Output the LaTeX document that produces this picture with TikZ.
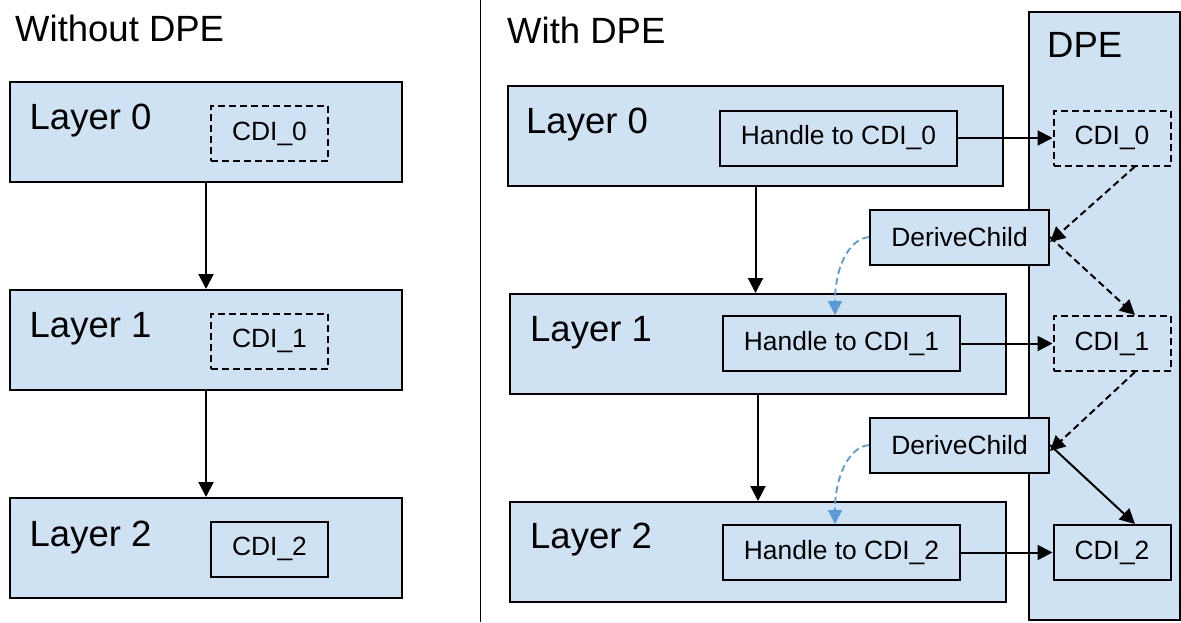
\documentclass[tikz,border=0pt]{standalone}
\usepackage{fontspec}
\setmainfont{Liberation Sans}
\usetikzlibrary{arrows.meta}
\definecolor{boxblue}{HTML}{CFE2F3}
\definecolor{linkblue}{HTML}{5B9BD5}
\begin{document}
\begin{tikzpicture}[x=1pt,y=-1pt,
  lw/.style={line width=2pt},
  layerbox/.style={draw, lw, fill=boxblue, rectangle, inner sep=0pt, minimum height=100pt},
  smallbox/.style={draw, lw, fill=boxblue, rectangle, inner sep=0pt, minimum height=55pt, font=\fontsize{26.4}{30}\selectfont},
  dashbox/.style={smallbox, dash pattern=on 7pt off 4pt},
  bigtext/.style={inner sep=0pt, anchor=base west, font=\fontsize{36.5}{40}\selectfont},
  arr/.style={lw, -{Triangle[length=15pt,width=15pt]}},
  darr/.style={arr, dash pattern=on 7pt off 4pt},
  barr/.style={line width=1.8pt, linkblue, dash pattern=on 7pt off 4pt, -{Triangle[length=14pt,width=14pt]}}]
\useasboundingbox (0,0) rectangle (1181,622);

% divider
\draw[line width=1.6pt] (480.5,0) coordinate (divtop) -- (480.5,622) coordinate (divbot);

% ---- Left panel ----
\node[bigtext] (t1) at (15,41) {Without DPE};
\node[layerbox, minimum width=392pt] (L0) at (206,132) {};
\node[layerbox, minimum width=392pt] (L1) at (206,340) {};
\node[layerbox, minimum width=392pt] (L2) at (206,548) {};
\node[bigtext] (L0t) at (29.5,129) {Layer 0};
\node[bigtext] (L1t) at (29.5,337) {Layer 1};
\node[bigtext] (L2t) at (29.5,546) {Layer 2};
\node[dashbox, minimum width=117pt] (LC0) at (269.5,133.5) {CDI\_0};
\node[dashbox, minimum width=117pt] (LC1) at (269.5,341) {CDI\_1};
\node[smallbox, minimum width=117pt] (LC2) at (269.5,549) {CDI\_2};
\draw[arr] (L0.south) -- (L1.north);
\draw[arr] (L1.south) -- (L2.north);

% ---- Right panel ----
\node[bigtext] (t2) at (507,43) {With DPE};
\node[layerbox, minimum width=151pt, minimum height=608pt] (DPE) at (1104.5,316) {};
\node[bigtext] (DPEt) at (1047,57) {DPE};

\node[layerbox, minimum width=495pt] (R0) at (755.5,136) {};
\node[layerbox, minimum width=496pt] (R1) at (758,344) {};
\node[layerbox, minimum width=496pt] (R2) at (758,552) {};
\node[bigtext] (R0t) at (526,133) {Layer 0};
\node[bigtext] (R1t) at (530,341) {Layer 1};
\node[bigtext] (R2t) at (530,548) {Layer 2};

\node[smallbox, minimum width=237pt] (H0) at (838.5,138) {Handle to CDI\_0};
\node[smallbox, minimum width=237pt] (H1) at (841.5,343.5) {Handle to CDI\_1};
\node[smallbox, minimum width=237pt] (H2) at (841.5,552.5) {Handle to CDI\_2};

\node[dashbox, minimum width=117pt] (C0) at (1112,138) {CDI\_0};
\node[dashbox, minimum width=117pt] (C1) at (1112,343.5) {CDI\_1};
\node[smallbox, minimum width=117pt] (C2) at (1112,552.5) {CDI\_2};

\node[smallbox, minimum width=179pt] (D1) at (959.5,237) {DeriveChild};
\node[smallbox, minimum width=179pt] (D2) at (959.5,445) {DeriveChild};

\draw[arr] (R0.south) -- (R0.south |- R1.north);
\draw[arr] (R1.south) -- (R1.south |- R2.north);

\draw[arr] (H0.east) -- (C0.west);
\draw[arr] (H1.east) -- (C1.west);
\draw[arr] (H2.east) -- (C2.west);

\draw[darr] ([xshift=23pt]C0.south) -- ([yshift=-5pt]D1.east);
\draw[darr] (D1.east) -- ([xshift=23pt]C1.north);
\draw[darr] ([xshift=23pt]C1.south) -- ([yshift=-6pt]D2.east);
\draw[arr] (D2.east) -- ([xshift=23pt]C2.north);

\draw[barr] (D1.west) .. controls +(-20,2) and +(0,-48) .. ([xshift=-6.5pt]H1.north);
\draw[barr] (D2.west) .. controls +(-20,2) and +(0,-48) .. ([xshift=-6.5pt]H2.north);
\end{tikzpicture}
\end{document}
